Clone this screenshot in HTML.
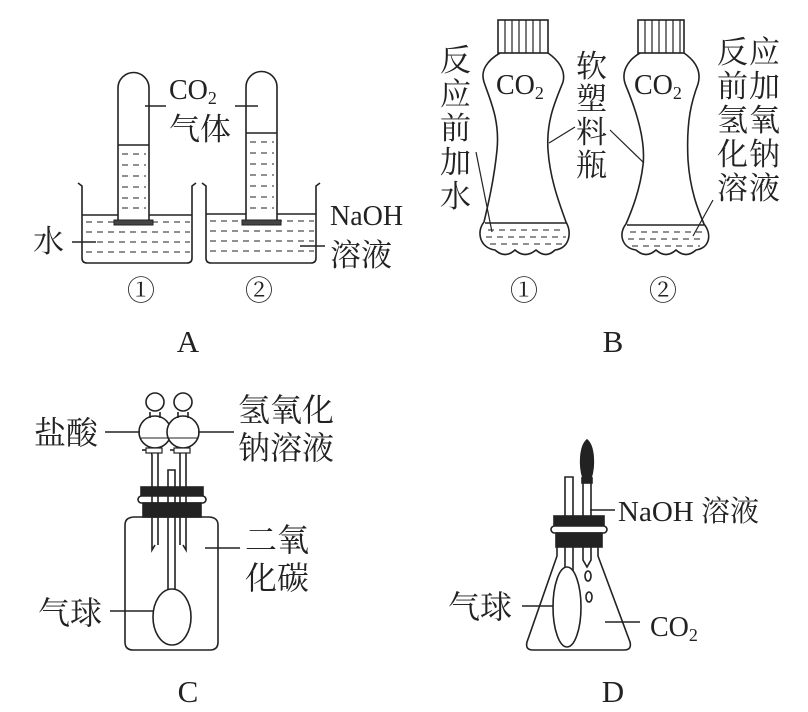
<!DOCTYPE html>
<html><head><meta charset="utf-8"><style>
html,body{margin:0;padding:0;background:#fff}
svg{display:block}
text{font-family:"Liberation Serif","Noto Serif CJK SC",serif;fill:#222}
</style></head><body>
<svg width="808" height="712" viewBox="0 0 808 712" xmlns="http://www.w3.org/2000/svg" fill="none" stroke="#222" stroke-width="1.6">
<!-- Panel A -->
<path d="M78,183 L82,186 L82,258 Q82,263 87,263 L187,263 Q192,263 192,258 L192,186 L196,183"/>
<path d="M202,183 L206,186 L206,258 Q206,263 211,263 L311,263 Q316,263 316,258 L316,186 L320,183"/>
<line x1="82" y1="215" x2="192" y2="215"/>
<line x1="206" y1="214" x2="316" y2="214"/>
<g stroke-width="1" stroke-dasharray="6,5">
<line x1="86" y1="222" x2="190" y2="222"/><line x1="86" y1="232" x2="190" y2="232"/><line x1="86" y1="242" x2="190" y2="242"/><line x1="86" y1="252" x2="190" y2="252"/>
<line x1="210" y1="221" x2="314" y2="221"/><line x1="210" y1="231" x2="314" y2="231"/><line x1="210" y1="241" x2="314" y2="241"/><line x1="210" y1="251" x2="314" y2="251"/>
</g>
<path d="M118,222 L118,88 A15.5,15.5 0 0 1 149,88 L149,222" fill="#fff"/>
<path d="M246,222 L246,87 A15.5,15.5 0 0 1 277,87 L277,222" fill="#fff"/>
<line x1="118" y1="145" x2="149" y2="145"/>
<line x1="246" y1="133" x2="277" y2="133"/>
<g stroke-width="1" stroke-dasharray="6,5">
<line x1="122" y1="154" x2="146" y2="154"/><line x1="122" y1="165" x2="146" y2="165"/><line x1="122" y1="176" x2="146" y2="176"/><line x1="122" y1="187" x2="146" y2="187"/><line x1="122" y1="198" x2="146" y2="198"/><line x1="122" y1="208" x2="146" y2="208"/>
<line x1="250" y1="142" x2="274" y2="142"/><line x1="250" y1="153" x2="274" y2="153"/><line x1="250" y1="164" x2="274" y2="164"/><line x1="250" y1="175" x2="274" y2="175"/><line x1="250" y1="186" x2="274" y2="186"/><line x1="250" y1="197" x2="274" y2="197"/><line x1="250" y1="208" x2="274" y2="208"/>
</g>
<rect x="114" y="220" width="39" height="5" fill="#444" stroke-width="1"/>
<rect x="242" y="220" width="39" height="5" fill="#444" stroke-width="1"/>
<line x1="145" y1="106" x2="166" y2="106"/>
<line x1="235" y1="106" x2="258" y2="106"/>
<line x1="72" y1="242" x2="96" y2="242"/>
<line x1="300" y1="246" x2="325" y2="246"/>
<g stroke="none">
<text x="169" y="99" font-size="28">CO<tspan font-size="18" dy="5">2</tspan></text>
<text x="169" y="140" font-size="31">气体</text>
<text x="33" y="252" font-size="31">水</text>
<text x="330" y="225" font-size="28">NaOH</text>
<text x="330" y="266" font-size="31">溶液</text>
<text x="141" y="300" font-size="28" text-anchor="middle">①</text>
<text x="259" y="300" font-size="28" text-anchor="middle">②</text>
<text x="188" y="352" font-size="31" text-anchor="middle">A</text>
</g>

<!-- Panel B -->
<rect x="498" y="20" width="50" height="33"/>
<g stroke-width="1.2"><line x1="505" y1="20" x2="505" y2="53"/><line x1="512" y1="20" x2="512" y2="53"/><line x1="519" y1="20" x2="519" y2="53"/><line x1="526" y1="20" x2="526" y2="53"/><line x1="533" y1="20" x2="533" y2="53"/><line x1="540" y1="20" x2="540" y2="53"/></g>
<path d="M500,53 C488,60 480,70 484,82 C490,100 500,120 497,150 C494,180 488,205 484,222 C476,232 480,248 495,250 Q505,259 515,250 Q525,259 536,250 Q546,259 555,250 C570,248 572,232 566,222 C560,205 550,180 548,150 C546,120 556,100 563,82 C566,70 558,60 548,53"/>
<line x1="485" y1="223" x2="566" y2="223"/>
<rect x="638" y="20" width="46" height="33"/>
<g stroke-width="1.2"><line x1="645" y1="20" x2="645" y2="53"/><line x1="652" y1="20" x2="652" y2="53"/><line x1="659" y1="20" x2="659" y2="53"/><line x1="666" y1="20" x2="666" y2="53"/><line x1="673" y1="20" x2="673" y2="53"/><line x1="680" y1="20" x2="680" y2="53"/></g>
<path d="M640,53 C628,60 620,72 626,86 C636,110 646,140 643,165 C640,190 632,210 626,224 C618,234 622,248 636,250 Q646,259 656,250 Q666,259 676,250 Q686,259 696,250 C710,248 712,234 704,224 C698,210 690,190 688,160 C686,120 692,100 698,84 C702,70 694,60 684,53"/>
<line x1="627" y1="225" x2="704" y2="225"/>
<g stroke-width="1" stroke-dasharray="6,5">
<line x1="488" y1="230" x2="564" y2="230"/><line x1="486" y1="237" x2="566" y2="237"/><line x1="490" y1="244" x2="562" y2="244"/>
<line x1="630" y1="232" x2="702" y2="232"/><line x1="628" y1="239" x2="704" y2="239"/><line x1="632" y1="246" x2="700" y2="246"/>
</g>
<g stroke-width="1.2">
<line x1="476" y1="152" x2="492" y2="232"/>
<line x1="575" y1="127" x2="549" y2="143"/>
<line x1="610" y1="130" x2="644" y2="163"/>
<line x1="713" y1="200" x2="693" y2="236"/>
</g>
<g stroke="none">
<text x="496" y="94" font-size="28">CO<tspan font-size="18" dy="5">2</tspan></text>
<text x="634" y="94" font-size="28">CO<tspan font-size="18" dy="5">2</tspan></text>
<g font-size="31">
<text x="440" y="71">反</text><text x="440" y="105">应</text><text x="440" y="139">前</text><text x="440" y="173">加</text><text x="440" y="207">水</text>
<text x="576" y="77">软</text><text x="576" y="110">塑</text><text x="576" y="143">料</text><text x="576" y="176">瓶</text>
<text x="717" y="63">反</text><text x="749" y="63">应</text>
<text x="717" y="97">前</text><text x="749" y="97">加</text>
<text x="717" y="131">氢</text><text x="749" y="131">氧</text>
<text x="717" y="165">化</text><text x="749" y="165">钠</text>
<text x="717" y="199">溶</text><text x="749" y="199">液</text>
</g>
<text x="524" y="300" font-size="28" text-anchor="middle">①</text>
<text x="663" y="300" font-size="28" text-anchor="middle">②</text>
<text x="613" y="352" font-size="31" text-anchor="middle">B</text>
</g>

<!-- Panel C -->
<path d="M125,525 Q125,517 135,517 L208,517 Q218,517 218,525 L218,642 Q218,650 210,650 L133,650 Q125,650 125,642 Z"/>
<rect x="141" y="487" width="62" height="9" fill="#222"/>
<rect x="138" y="496" width="68" height="7" rx="3.5" fill="#fff"/>
<rect x="143" y="503" width="58" height="14" fill="#222"/>
<g>
<circle cx="155" cy="432" r="16" fill="#fff"/>
<path d="M141,438 L169,438" stroke-width="1"/>
<path d="M150,418 L150,412 M160,418 L160,412"/>
<circle cx="155" cy="402" r="9" fill="#fff"/>
<path d="M150,447 L152,455 L152,550 L155,545 M158,447 L158,545"/>
<rect x="146" y="448" width="16" height="5" fill="#fff" stroke-width="1.2"/>
<line x1="142" y1="450" x2="146" y2="450"/>
<circle cx="183" cy="432" r="16" fill="#fff"/>
<path d="M169,438 L197,438" stroke-width="1"/>
<path d="M178,418 L178,412 M188,418 L188,412"/>
<circle cx="183" cy="402" r="9" fill="#fff"/>
<path d="M180,447 L180,545 M186,447 L186,550 L183,545"/>
<rect x="174" y="448" width="16" height="5" fill="#fff" stroke-width="1.2"/>
<line x1="170" y1="450" x2="174" y2="450"/>
</g>
<path d="M168,590 L168,470 L175,470 L175,590"/>
<ellipse cx="172" cy="617" rx="19" ry="28" fill="#fff"/>
<line x1="105" y1="432" x2="140" y2="432"/>
<line x1="198" y1="432" x2="234" y2="432"/>
<line x1="205" y1="548" x2="240" y2="548"/>
<line x1="110" y1="611" x2="153" y2="611"/>
<g stroke="none" font-size="32">
<text x="34" y="444">盐酸</text>
<text x="238" y="421">氢氧化</text>
<text x="238" y="459">钠溶液</text>
<text x="245" y="551">二氧</text>
<text x="245" y="589">化碳</text>
<text x="38" y="624">气球</text>
<text x="188" y="702" font-size="31" text-anchor="middle">C</text>
</g>

<!-- Panel D -->
<path d="M557,547 L557,556 L527,642 Q525,650 533,650 L624,650 Q632,650 630,642 L598,556 L598,547"/>
<path d="M587,440 C580,446 579,465 583,478 L591,478 C595,465 594,446 587,440 Z" fill="#222"/>
<rect x="582" y="478" width="10" height="5" fill="#222"/>
<path d="M583,483 L583,560 L587,567 L591,560 L591,483"/>
<path d="M565,590 L565,477 L573,477 L573,590"/>
<rect x="554" y="516" width="50" height="10" fill="#222"/>
<rect x="551" y="526" width="56" height="7" rx="3.5" fill="#fff"/>
<rect x="556" y="533" width="46" height="14" fill="#222"/>
<ellipse cx="567" cy="607" rx="14" ry="40" fill="#fff"/>
<ellipse cx="588" cy="576" rx="3" ry="5"/>
<ellipse cx="589" cy="597" rx="3" ry="5"/>
<line x1="590" y1="510" x2="615" y2="510"/>
<line x1="522" y1="606" x2="553" y2="606"/>
<line x1="605" y1="622" x2="640" y2="622"/>
<g stroke="none">
<text x="618" y="521" font-size="29">NaOH 溶液</text>
<text x="448" y="618" font-size="32">气球</text>
<text x="650" y="636" font-size="28">CO<tspan font-size="18" dy="5">2</tspan></text>
<text x="613" y="702" font-size="31" text-anchor="middle">D</text>
</g>
</svg>
</body></html>
